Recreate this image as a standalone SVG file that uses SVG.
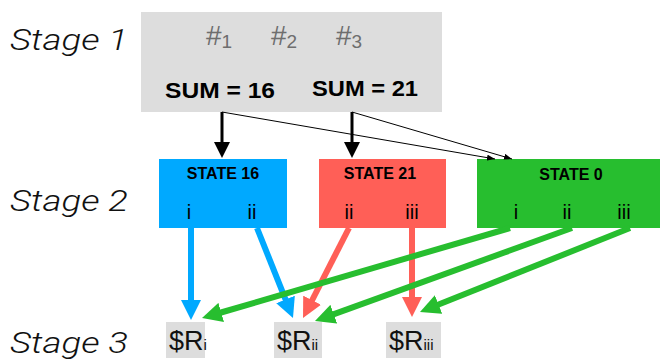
<svg xmlns="http://www.w3.org/2000/svg" width="662" height="360" viewBox="0 0 662 360">
<style>
.stage{font-family:Roboto,"Liberation Sans",Arial,sans-serif;font-style:italic;font-weight:300;font-size:30px;fill:#111}
.hash{font-family:"Liberation Sans",Arial,sans-serif;font-size:28px;fill:#6e6e6e}
.sum{font-family:"Liberation Sans",Arial,sans-serif;font-weight:bold;font-size:22px;fill:#000}
.st{font-family:"Liberation Sans",Arial,sans-serif;font-weight:bold;font-size:16px;fill:#000;text-anchor:middle}
.rn{font-family:"Liberation Sans",Arial,sans-serif;font-size:20px;fill:#000;text-anchor:middle}
.res{font-family:"Liberation Sans",Arial,sans-serif;font-size:27px;fill:#111}
.gray{fill:#dddddd}
.thick{fill:none;stroke-width:6}
</style>
<defs>
<marker id="hb" viewBox="0 0 20 20" refX="2" refY="10" markerWidth="20" markerHeight="20" markerUnits="userSpaceOnUse" orient="auto"><path d="M0,0 L20,10 L0,20 z" fill="#00a9ff"/></marker>
<marker id="hr" viewBox="0 0 20 20" refX="2" refY="10" markerWidth="20" markerHeight="20" markerUnits="userSpaceOnUse" orient="auto"><path d="M0,0 L20,10 L0,20 z" fill="#ff5f57"/></marker>
<marker id="hg" viewBox="0 0 20 20" refX="2" refY="10" markerWidth="20" markerHeight="20" markerUnits="userSpaceOnUse" orient="auto"><path d="M0,0 L20,10 L0,20 z" fill="#27be2f"/></marker>
<marker id="hk" viewBox="0 0 16 16" refX="2" refY="8" markerWidth="16" markerHeight="16" markerUnits="userSpaceOnUse" orient="auto"><path d="M0,0 L16,8 L0,16 z" fill="#000"/></marker>
<marker id="hkt" viewBox="0 0 8 6" refX="8" refY="3" markerWidth="8" markerHeight="6" markerUnits="userSpaceOnUse" orient="auto"><path d="M0,0 L8,3 L0,6 z" fill="#000"/></marker>
</defs>

<g id="labels">
<text class="stage" x="10" y="50" textLength="118" lengthAdjust="spacingAndGlyphs">Stage 1</text>
<text class="stage" x="10" y="211" textLength="118" lengthAdjust="spacingAndGlyphs">Stage 2</text>
<text class="stage" x="10" y="353" textLength="118" lengthAdjust="spacingAndGlyphs">Stage 3</text>
</g>

<g id="stage1">
<rect class="gray" x="141" y="12" width="301" height="100"/>
<text class="hash" x="206" y="45">#<tspan font-size="19" dy="3">1</tspan></text>
<text class="hash" x="271" y="45">#<tspan font-size="19" dy="3">2</tspan></text>
<text class="hash" x="336" y="45">#<tspan font-size="19" dy="3">3</tspan></text>
<text class="sum" x="165" y="98" textLength="110" lengthAdjust="spacingAndGlyphs">SUM = 16</text>
<text class="sum" x="312" y="96" textLength="106" lengthAdjust="spacingAndGlyphs">SUM = 21</text>
</g>

<g id="state16">
<rect x="159" y="159" width="128" height="69" fill="#00a9ff"/>
<text class="st" x="223" y="179">STATE 16</text>
<text class="rn" x="189" y="219">i</text>
<text class="rn" x="252" y="219">ii</text>
</g>
<g id="state21">
<rect x="319" y="159" width="127" height="69" fill="#ff5f57"/>
<text class="st" x="380" y="179">STATE 21</text>
<text class="rn" x="349" y="219">ii</text>
<text class="rn" x="412" y="219">iii</text>
</g>
<g id="state0">
<rect x="477" y="159" width="183" height="69" fill="#27be2f"/>
<text class="st" x="571" y="180">STATE 0</text>
<text class="rn" x="516" y="219">i</text>
<text class="rn" x="567" y="219">ii</text>
<text class="rn" x="624" y="219">iii</text>
</g>

<g id="ri">
<rect class="gray" x="166" y="322" width="39" height="36"/>
<text class="res" x="169" y="350">$R<tspan font-size="15">i</tspan></text>
</g>
<g id="rii">
<rect class="gray" x="274" y="322" width="48" height="36"/>
<text class="res" x="277" y="350">$R<tspan font-size="15">ii</tspan></text>
</g>
<g id="riii">
<rect class="gray" x="386" y="322" width="55" height="36"/>
<text class="res" x="389" y="350">$R<tspan font-size="15">iii</tspan></text>
</g>

<g id="connectors">
<line x1="222" y1="112" x2="222" y2="144" stroke="#000" stroke-width="3" marker-end="url(#hk)"/>
<line x1="352" y1="112" x2="352" y2="144" stroke="#000" stroke-width="3" marker-end="url(#hk)"/>
<line x1="222" y1="112" x2="495" y2="159" stroke="#000" stroke-width="1" marker-end="url(#hkt)"/>
<line x1="352" y1="112" x2="512" y2="159" stroke="#000" stroke-width="1" marker-end="url(#hkt)"/>
<line class="thick" x1="191" y1="228" x2="191" y2="302" stroke="#00a9ff" marker-end="url(#hb)"/>
<line class="thick" x1="257" y1="228" x2="286.3" y2="301.3" stroke="#00a9ff" marker-end="url(#hb)"/>
<line class="thick" x1="349" y1="228" x2="311.2" y2="302" stroke="#ff5f57" marker-end="url(#hr)"/>
<line class="thick" x1="412" y1="228" x2="412" y2="299" stroke="#ff5f57" marker-end="url(#hr)"/>
<line class="thick" x1="510" y1="228" x2="219.3" y2="313" stroke="#27be2f" marker-end="url(#hg)"/>
<line class="thick" x1="572" y1="228" x2="331.9" y2="314.9" stroke="#27be2f" marker-end="url(#hg)"/>
<line class="thick" x1="630" y1="228" x2="436.7" y2="305.3" stroke="#27be2f" marker-end="url(#hg)"/>
</g>
</svg>
